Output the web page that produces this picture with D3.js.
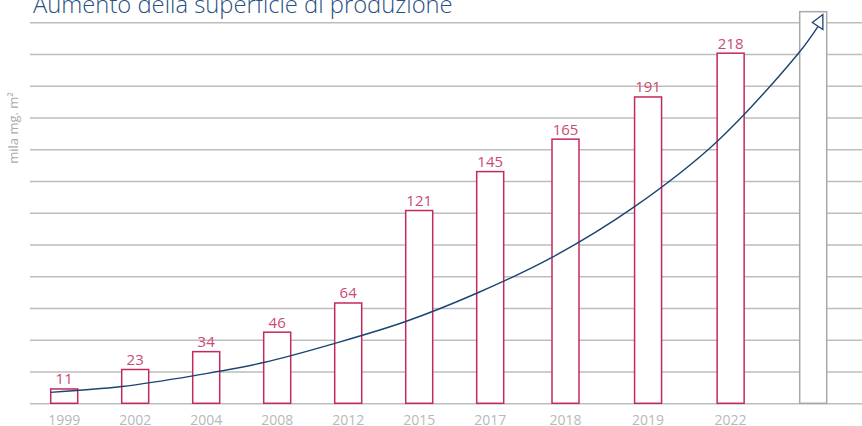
<!DOCTYPE html>
<html>
<head>
<meta charset="utf-8">
<script src="https://cdn.jsdelivr.net/npm/d3@7"></script>
<style>
  body { margin: 0; background: #fff; }
  svg { display: block; font-family: "Open Sans", sans-serif; }
</style>
</head>
<body>
<svg id="chart"></svg>
<script>
const years = ["1999", "2002", "2004", "2008", "2012", "2015", "2017", "2018", "2019", "2022"];
const values = [11, 23, 34, 46, 64, 121, 145, 165, 191, 218];
const futureValue = 243.6;        // empty grey bar on the right
const gridLines = d3.range(0, 13);

// trend arrow (slot index, value)
const trendSlot = [0, 1, 2, 3, 4, 5, 6, 7, 8, 9, 10, 10.22];
const trendValue = [8.9, 12.5, 19.1, 27.3, 39.1, 52.6, 70.0, 92.1, 123.4, 163.6, 218.9, 234.4];

const width = 862, height = 426;
const baseline = 403.3;
const svg = d3.select("#chart").attr("width", width).attr("height", height);

const x = d3.scaleLinear()
    .domain([0, 6, 7, 10])
    .range([50.7, 476.7, 552, 799.7]);
const barW = 27;
const y = d3.scaleLinear().domain([0, 240]).range([406.8, 17.5]);
const gridY = d3.scaleLinear().domain([0, 12]).range([baseline, 22.3]);

// grid lines
const grid = svg.append("g")
    .attr("transform", "translate(30,0)")
    .call(d3.axisLeft(gridY).tickValues(gridLines).tickSize(-(width - 30)).tickFormat(""));
grid.select(".domain").remove();
grid.selectAll("line").attr("stroke", "#bdbdbd").attr("stroke-width", 1.5);

// bars
svg.append("g").selectAll("rect")
    .data(values)
    .enter().append("rect")
    .attr("x", (d, i) => x(i))
    .attr("y", d => y(d))
    .attr("width", barW)
    .attr("height", d => baseline - y(d))
    .attr("fill", "#fff")
    .attr("stroke", "#c4285e")
    .attr("stroke-width", 1.5);

svg.append("rect")
    .attr("x", x(values.length))
    .attr("y", y(futureValue))
    .attr("width", barW)
    .attr("height", baseline - y(futureValue))
    .attr("fill", "#fff")
    .attr("stroke", "#a8a8a8")
    .attr("stroke-width", 1.5);

// value labels
svg.append("g").selectAll("text")
    .data(values)
    .enter().append("text")
    .attr("x", (d, i) => x(i) + barW / 2)
    .attr("y", d => y(d) - 4.5)
    .attr("text-anchor", "middle")
    .attr("font-size", 15)
    .attr("fill", "#cb4a74")
    .text(d => d);

// year labels
svg.append("g").selectAll("text")
    .data(years)
    .enter().append("text")
    .attr("x", (d, i) => x(i) + barW / 2)
    .attr("y", 425)
    .attr("text-anchor", "middle")
    .attr("font-size", 14)
    .attr("fill", "#b8b8b8")
    .text(d => d);

// trend arrow
svg.append("defs").append("marker")
    .attr("id", "arrow-open")
    .attr("markerUnits", "userSpaceOnUse")
    .attr("viewBox", "-8 -14 16 20")
    .attr("refX", 0)
    .attr("refY", 0)
    .attr("markerWidth", 16)
    .attr("markerHeight", 20)
    .attr("orient", 0)
    .attr("overflow", "visible")
    .append("path")
    .attr("d", "M-5.5,-4L5,-12L5,3Z")
    .attr("fill", "#fff")
    .attr("stroke", "#1b4472")
    .attr("stroke-width", 1.3);

const trend = d3.line()
    .x((d, i) => x(trendSlot[i]))
    .y(d => y(d))
    .curve(d3.curveCatmullRom);

svg.append("path")
    .datum(trendValue)
    .attr("d", trend)
    .attr("fill", "none")
    .attr("stroke", "#1b4472")
    .attr("stroke-width", 1.4)
    .attr("marker-end", "url(#arrow-open)");

// title
const title = svg.append("text")
    .attr("x", 33)
    .attr("y", 12.5)
    .attr("font-size", 24)
    .attr("font-weight", 300)
    .attr("fill", "#2a5082")
    .text("Aumento della superficie di produzione");
const len = title.node().getComputedTextLength();
title.attr("font-size", 24 * 420 / len);

// y axis label
svg.append("text")
    .attr("transform", "translate(18,128) rotate(-90)")
    .attr("text-anchor", "middle")
    .attr("font-size", 13)
    .attr("fill", "#ababab")
    .text("mila mg. m²");
</script>
</body>
</html>
